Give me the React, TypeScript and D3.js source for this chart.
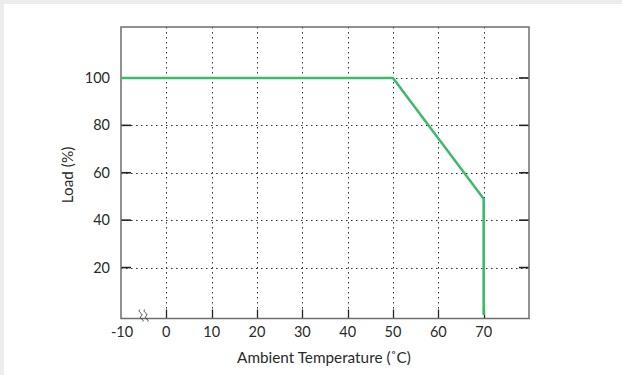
import React from "react";
import * as d3 from "d3";

const temps = [-10, 50, 70, 70];
const loads = [100, 100, 49, 0];
const xTickValues = [0, 10, 20, 30, 40, 50, 60, 70];
const xTickLabels = ["-10", "0", "10", "20", "30", "40", "50", "60", "70"];
const xLabelValues = [-10, 0, 10, 20, 30, 40, 50, 60, 70];
const yTickValues = [20, 40, 60, 80, 100];
const yTickLabels = ["20", "40", "60", "80", "100"];

const W = 622;
const H = 375;
const L = 121, R = 529, T = 27, B = 318.5;
const FONT = "Lato, 'Open Sans', sans-serif";

export default function App() {
  const x = d3.scaleLinear().domain([-10, 80]).range([L, R]);
  const y = d3.scaleLinear().domain([-1.5, 121.5]).range([B, T]);
  const pts = temps.map((t, i) => [t, loads[i]] as [number, number]);
  const line = d3.line<[number, number]>().x(d => x(d[0])).y(d => y(d[1]));

  const bx = x(-5);
  const squig = (cx: number) =>
    `M${cx - 1.5},${B - 9} C${cx - 4},${B - 6} ${cx + 3},${B - 5} ${cx},${B - 2.5} C${cx - 3},${B} ${cx + 4},${B + 1} ${cx + 1.5},${B + 3}`;

  return (
    <svg width={W} height={H} style={{ position: "fixed", left: 0, top: 0 }} fontFamily={FONT}>
      <rect x={0} y={0} width={W} height={H} fill="#ececec" />
      <rect x={4} y={4} width={W - 4} height={H - 4} fill="#ffffff" />
      {/* grid */}
      {xTickValues.map(v => (
        <line key={"gx" + v} x1={Math.round(x(v)) + 0.5} x2={Math.round(x(v)) + 0.5} y1={T} y2={B}
          stroke="#333" strokeWidth={1} strokeDasharray="1.5,3.5" />
      ))}
      {yTickValues.map(v => (
        <line key={"gy" + v} x1={L} x2={R} y1={Math.round(y(v)) + 0.5} y2={Math.round(y(v)) + 0.5}
          stroke="#333" strokeWidth={1} strokeDasharray="1.5,3.5" />
      ))}
      {/* ticks */}
      {xTickValues.map(v => (
        <line key={"tx" + v} x1={Math.round(x(v)) + 0.5} x2={Math.round(x(v)) + 0.5} y1={B} y2={B - 9}
          stroke="#222" strokeWidth={1.3} />
      ))}
      {yTickValues.map(v => (
        <g key={"ty" + v}>
          <line x1={L} x2={L + 10} y1={y(v)} y2={y(v)} stroke="#222" strokeWidth={1.6} />
          <line x1={R} x2={R - 10} y1={y(v)} y2={y(v)} stroke="#222" strokeWidth={1.6} />
        </g>
      ))}
      {/* frame */}
      <rect x={L} y={T} width={R - L} height={B - T} fill="none" stroke="#6e6e6e" strokeWidth={1.5} />
      {/* break symbol */}
      <path d={squig(bx - 2.5)} fill="none" stroke="#333" strokeWidth={0.9} />
      <path d={squig(bx + 2.5)} fill="none" stroke="#333" strokeWidth={0.9} />
      {/* data line */}
      <path d={line(pts) || ""} fill="none" stroke="#3dba6b" strokeWidth={2.6} strokeLinejoin="miter" />
      {/* tick labels */}
      {xLabelValues.map((v, i) => (
        <text key={"lx" + v} x={x(v) + (v === -10 ? 1 : 0)} y={337} textAnchor="middle" fontSize={14.5} fill="#2a2a2a">
          {xTickLabels[i]}
        </text>
      ))}
      {yTickValues.map((v, i) => (
        <text key={"ly" + v} x={110} y={y(v) + 5} textAnchor="end" fontSize={14.5} fill="#2a2a2a">
          {yTickLabels[i]}
        </text>
      ))}
      <text x={324} y={363} textAnchor="middle" fontSize={15.3} fill="#2a2a2a">Ambient Temperature (˚C)</text>
      <text transform={`translate(73,175) rotate(-90)`} textAnchor="middle" fontSize={15.3} fill="#2a2a2a">Load (%)</text>
    </svg>
  );
}
